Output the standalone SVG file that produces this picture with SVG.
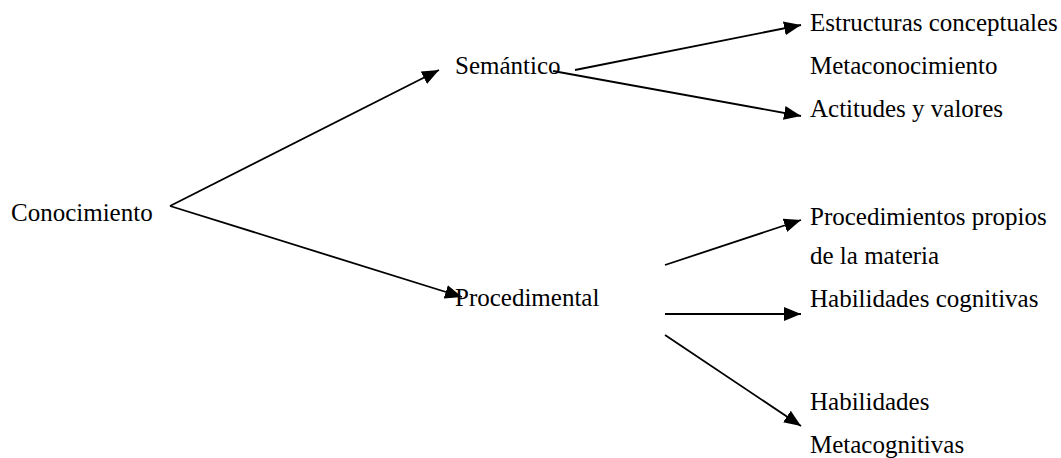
<svg xmlns="http://www.w3.org/2000/svg" width="1061" height="458" viewBox="0 0 1061 458">
  <defs>
    <style>
      .lbl { font-family: "Liberation Serif", "Times New Roman", serif; font-size: 25px; fill: #000; }
      .edge { stroke: #000; stroke-width: 1.8; fill: none; marker-end: url(#head); }
    </style>
    <marker id="head" markerUnits="userSpaceOnUse" markerWidth="17" markerHeight="14" refX="17" refY="7" orient="auto">
      <path d="M0,0 L17,7 L0,14 z" fill="#000"/>
    </marker>
  </defs>
  <rect width="1061" height="458" fill="#fff"/>

  <g id="connectors">
    <line class="edge" x1="170" y1="206" x2="439" y2="70"/>
    <line class="edge" x1="170" y1="206" x2="462" y2="297"/>
    <line class="edge" x1="575" y1="70" x2="801" y2="25"/>
    <line class="edge" x1="553" y1="71" x2="801" y2="116"/>
    <line class="edge" x1="665" y1="265" x2="801" y2="220"/>
    <line class="edge" x1="665" y1="314" x2="801" y2="314"/>
    <line class="edge" x1="665" y1="335" x2="801" y2="426"/>
  </g>

  <g id="conocimiento"><text class="lbl" x="11" y="221">Conocimiento</text></g>
  <g id="semantico"><text class="lbl" x="455" y="74">Semántico</text></g>
  <g id="procedimental"><text class="lbl" x="455" y="306">Procedimental</text></g>
  <g id="estructuras"><text class="lbl" x="810" y="31">Estructuras conceptuales</text></g>
  <g id="metaconocimiento"><text class="lbl" x="810" y="74">Metaconocimiento</text></g>
  <g id="actitudes"><text class="lbl" x="810" y="117">Actitudes y valores</text></g>
  <g id="procedimientos"><text class="lbl" x="810" y="225">Procedimientos propios</text><text class="lbl" x="810" y="264">de la materia</text></g>
  <g id="habilidades-cognitivas"><text class="lbl" x="810" y="307">Habilidades cognitivas</text></g>
  <g id="habilidades-metacognitivas"><text class="lbl" x="810" y="410">Habilidades</text><text class="lbl" x="810" y="453">Metacognitivas</text></g>
</svg>
